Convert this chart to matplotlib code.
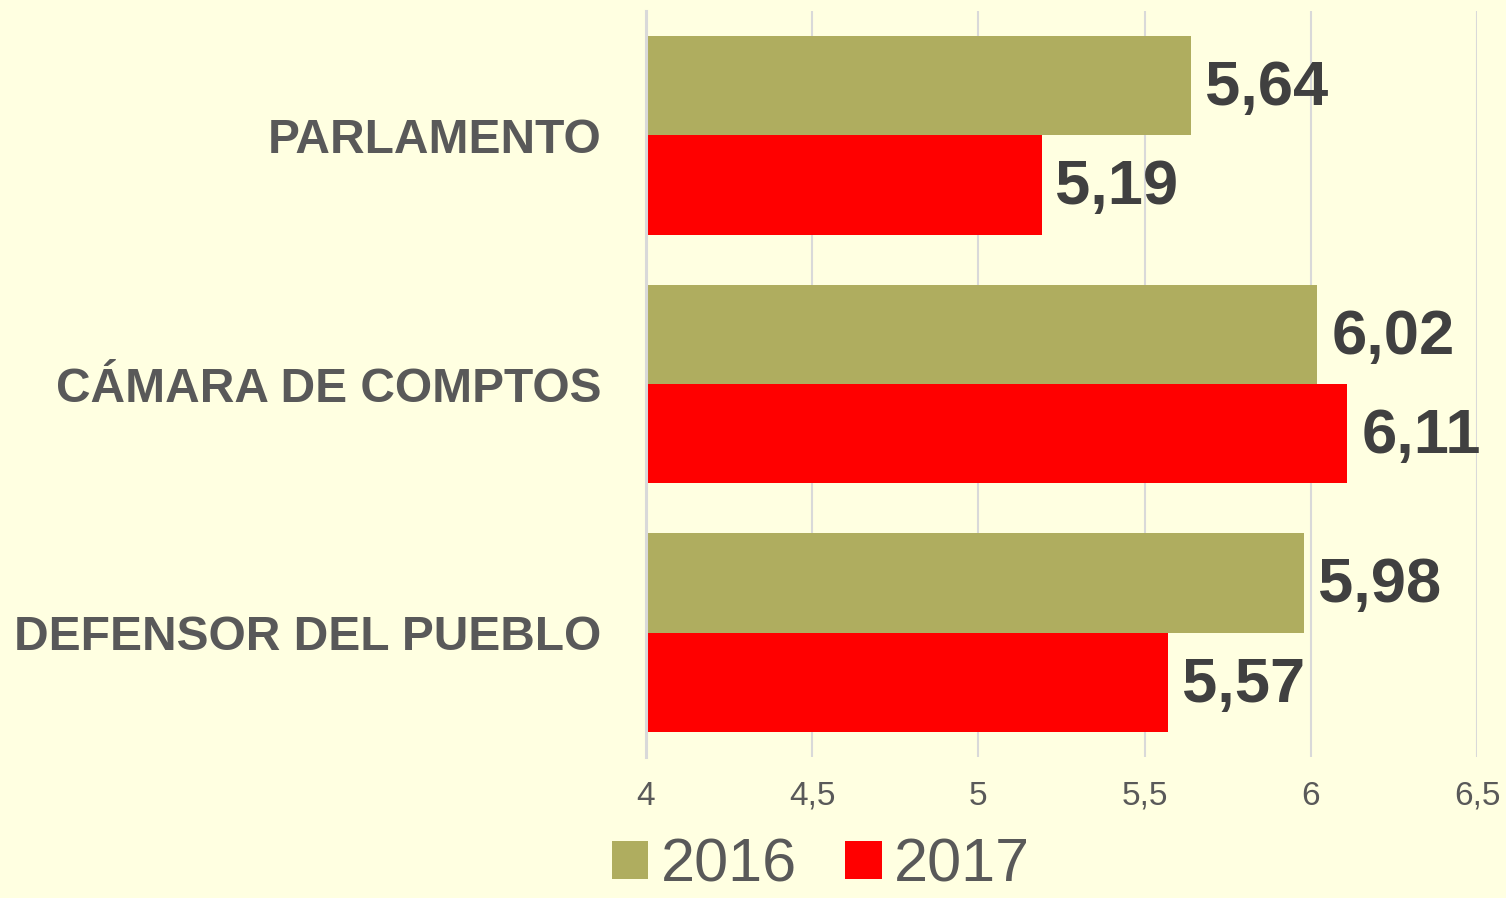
import matplotlib
matplotlib.use("Agg")
import matplotlib.pyplot as plt
from matplotlib.patches import Patch
import numpy as np

categories = ["PARLAMENTO", "CÁMARA DE COMPTOS", "DEFENSOR DEL PUEBLO"]
series_names = ["2016", "2017"]
values_2016 = [5.64, 6.02, 5.98]
values_2017 = [5.19, 6.11, 5.57]
xticks = [4, 4.5, 5, 5.5, 6, 6.5]
xtick_labels = ["4", "4,5", "5", "5,5", "6", "6,5"]

BG = "#FFFFE1"
OLIVE = "#AFAD5F"
RED = "#FF0000"
GRID = "#D9D9D9"
LABEL = "#595959"
VALUE = "#404040"

plt.rcParams['font.family'] = ['Liberation Sans', 'DejaVu Sans']

fig = plt.figure(figsize=(15.06, 8.98), dpi=100, facecolor=BG)
ax = fig.add_axes([646 / 1506, 1 - 757 / 898, (1477 - 646) / 1506, (757 - 11) / 898])
ax.set_facecolor(BG)

y = np.arange(len(categories))
h = 0.4
b1 = ax.barh(y - h / 2, [v - 4 for v in values_2016], left=4, height=h, color=OLIVE, zorder=3)
b2 = ax.barh(y + h / 2, [v - 4 for v in values_2017], left=4, height=h, color=RED, zorder=3)

ax.set_xlim(4, 6.5)
ax.set_ylim(2.5, -0.5)

for bars, vals in ((b1, values_2016), (b2, values_2017)):
    for rect, v in zip(bars, vals):
        ax.annotate(f"{v:.2f}".replace(".", ","),
                    xy=(v, rect.get_y() + rect.get_height() / 2),
                    xytext=(10, -2), textcoords="offset points",
                    ha="left", va="center", fontsize=45.5, fontweight="bold",
                    color=VALUE, zorder=4)

ax.set_xticks(xticks)
ax.set_xticklabels(xtick_labels, fontsize=24, color=LABEL)
ax.set_yticks(y)
ax.set_yticklabels(categories, fontsize=34.5, fontweight="bold", color=LABEL)
ax.tick_params(axis="x", length=0, pad=17)
ax.tick_params(axis="y", length=0, pad=32)

ax.grid(axis="x", color=GRID, linewidth=1.5, zorder=0)
for s in ("top", "right", "bottom"):
    ax.spines[s].set_visible(False)
ax.spines["left"].set_color(GRID)
ax.spines["left"].set_linewidth(2.2)
ax.spines["left"].set_zorder(5)

handles = [Patch(facecolor=OLIVE, edgecolor="none"), Patch(facecolor=RED, edgecolor="none")]
fig.legend(handles, series_names, loc="center", bbox_to_anchor=(821 / 1506, 1 - 866 / 898),
           ncol=2, frameon=False, fontsize=44, handlelength=0.6, handleheight=0.6,
           handletextpad=0.2, columnspacing=0.8, labelcolor=LABEL, borderpad=0)

fig.savefig("out.png", dpi=100, facecolor=BG)
